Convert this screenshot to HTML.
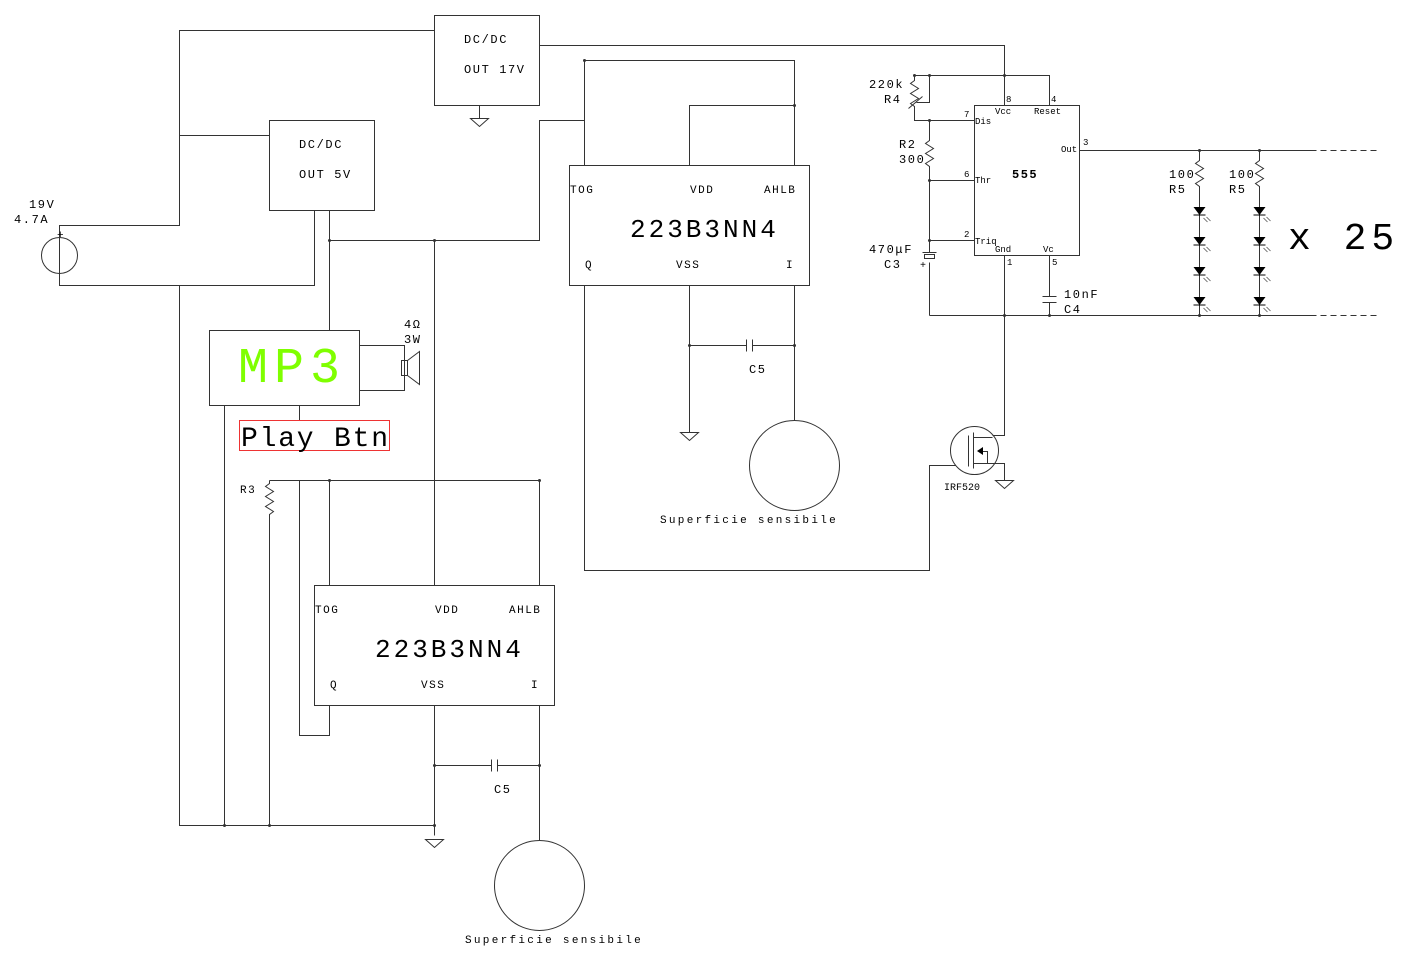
<!DOCTYPE html>
<html><head><meta charset="utf-8"><style>
html,body{margin:0;padding:0;background:#fff;}
svg{display:block;}
text{font-family:"Liberation Mono",monospace;fill:#000;}
</style></head><body>
<svg width="1410" height="961" viewBox="0 0 1410 961" xmlns="http://www.w3.org/2000/svg">
<defs>
<g id="gnd"><path d="M-9,0 H9 L0,8 Z" fill="none" stroke="#333"/></g>
<g id="led"><path d="M-6,-5 H6 L0,3 Z" fill="#000"/><path d="M-6,3 H6" stroke="#000"/><path d="M4,6 l4,4 M7,5 l4,4" stroke="#555" stroke-width="0.8"/></g>
</defs>
<g stroke="#333" stroke-width="1" fill="none" transform="translate(0.5,0.5)">
<rect x="434" y="15" width="105" height="90"/>
<rect x="269" y="120" width="105" height="90"/>
<rect x="569" y="165" width="240" height="120"/>
<rect x="314" y="585" width="240" height="120"/>
<rect x="209" y="330" width="150" height="75"/>
<rect x="974" y="105" width="105" height="150"/>
<path d="M434,30 H179 V225 H59 V285 H314 V210"/>
<circle cx="59" cy="255" r="18"/>
<path d="M179,135 H269"/>
<path d="M179,285 V825 H434"/>
<path d="M539,45 H1004 V105"/>
<path d="M479,105 V118"/>
<path d="M329,210 V330"/>
<path d="M329,240 H539 V120 H584"/>
<path d="M434,240 V585"/>
<path d="M584,60 V165 M584,60 H794 V165 M794,105 H689 V165"/>
<path d="M689,285 V432 M689,345 H746 M752,345 H794 M794,285 V420"/>
<path d="M746,339 V351 M752,339 V351"/>
<circle cx="794" cy="465" r="45"/>
<path d="M584,285 V570 H929 V465 H955"/>
<path d="M359,345 H404 V390 H359"/>
<rect x="401" y="360" width="6" height="15"/>
<path d="M407,360 L419,351 V384 L407,375"/>
<path d="M224,405 V825 M299,405 V420"/>
<path d="M269,480 H539 M269,480 V483 l-4,3 l8,5 l-8,5 l8,5 l-8,5 l8,5 l-4,3 V825"/>
<path d="M299,480 V735 H329 V705 M329,480 V585 M539,480 V585"/>
<path d="M434,705 V835 M434,765 H491 M497,765 H539 M539,705 V840"/>
<path d="M491,759 V771 M497,759 V771"/>
<circle cx="539" cy="885" r="45"/>
<path d="M929,75 H1049 V105 M914,75 H929"/>
<path d="M914,75 V80 l-4,3 l8,5 l-8,5 l8,5 l-8,5 l4,3 V120 H974"/>
<path d="M929,75 V102 H916 M908,108 L922,96"/>
<path d="M929,120 V140 l-4,3 l8,5 l-8,5 l8,5 l-8,5 l4,3 V180 H974"/>
<path d="M929,180 V240 H974 M929,240 V252 M929,262 V315"/>
<rect x="924" y="254" width="10" height="4"/>
<path d="M922,252 H936"/>
<path d="M929,315 H1310 M1079,150 H1310"/>
<path d="M1310,150 H1380 M1310,315 H1380" stroke-dasharray="6,4"/>
<path d="M1004,255 V435 H992"/>
<path d="M1049,255 V296 M1042,296 H1056 M1042,302 H1056 M1049,302 V315"/>
<path d="M1199,150 V160 l-4,3 l8,5 l-8,5 l8,5 l-8,5 l4,3 V300"/>
<path d="M1259,150 V160 l-4,3 l8,5 l-8,5 l8,5 l-8,5 l4,3 V300"/>
<path d="M1199,300 V315 M1259,300 V315"/>
<circle cx="974" cy="450" r="24"/>
<path d="M968,435 V466 M973,432 V468 M973,437 H992 M973,463 H987 V451 H979 M987,463 H1004 V480"/>
</g>
<path d="M977,451 l6,-4 v8 Z" fill="#000"/>
<g transform="translate(479.5,118.5)"><use href="#gnd"/></g>
<g transform="translate(689.5,432.5)"><use href="#gnd"/></g>
<g transform="translate(434.5,839.5)"><use href="#gnd"/></g>
<g transform="translate(1004.5,480.5)"><use href="#gnd"/></g>
<g transform="translate(1199.5,212)"><use href="#led"/></g>
<g transform="translate(1199.5,242)"><use href="#led"/></g>
<g transform="translate(1199.5,272)"><use href="#led"/></g>
<g transform="translate(1199.5,302)"><use href="#led"/></g>
<g transform="translate(1259.5,212)"><use href="#led"/></g>
<g transform="translate(1259.5,242)"><use href="#led"/></g>
<g transform="translate(1259.5,272)"><use href="#led"/></g>
<g transform="translate(1259.5,302)"><use href="#led"/></g>
<g fill="#333">
<circle cx="329.5" cy="240.5" r="1.5"/><circle cx="434.5" cy="240.5" r="1.5"/>
<circle cx="584.5" cy="60.5" r="1.5"/><circle cx="794.5" cy="105.5" r="1.5"/>
<circle cx="689.5" cy="345.5" r="1.5"/><circle cx="794.5" cy="345.5" r="1.5"/>
<circle cx="329.5" cy="480.5" r="1.5"/><circle cx="539.5" cy="480.5" r="1.5"/>
<circle cx="434.5" cy="765.5" r="1.5"/><circle cx="539.5" cy="765.5" r="1.5"/>
<circle cx="224.5" cy="825.5" r="1.5"/><circle cx="269.5" cy="825.5" r="1.5"/><circle cx="434.5" cy="825.5" r="1.5"/>
<circle cx="929.5" cy="75.5" r="1.5"/><circle cx="1004.5" cy="75.5" r="1.5"/><circle cx="914.5" cy="75.5" r="1.5"/>
<circle cx="929.5" cy="120.5" r="1.5"/><circle cx="929.5" cy="180.5" r="1.5"/><circle cx="929.5" cy="240.5" r="1.5"/>
<circle cx="1004.5" cy="315.5" r="1.5"/><circle cx="1049.5" cy="315.5" r="1.5"/>
<circle cx="1199.5" cy="150.5" r="1.5"/><circle cx="1259.5" cy="150.5" r="1.5"/>
<circle cx="1199.5" cy="315.5" r="1.5"/><circle cx="1259.5" cy="315.5" r="1.5"/>
</g>
<rect x="239.5" y="420.5" width="150" height="30" fill="none" stroke="#e33"/>
<g font-size="12" letter-spacing="1.6">
<text x="464" y="43">DC/DC</text><text x="464" y="73">OUT 17V</text>
<text x="299" y="148">DC/DC</text><text x="299" y="178">OUT 5V</text>
<text x="29" y="208">19V</text><text x="14" y="223">4.7A</text>
<text x="404" y="328">4Ω</text><text x="404" y="343">3W</text>
<text x="749" y="373">C5</text><text x="494" y="793">C5</text>
<text x="869" y="88">220k</text><text x="884" y="103">R4</text>
<text x="899" y="148">R2</text><text x="899" y="163">300</text>
<text x="869" y="253">470μF</text><text x="884" y="268">C3</text>
<text x="1064" y="298">10nF</text><text x="1064" y="313">C4</text>
<text x="1169" y="178">100</text><text x="1169" y="193">R5</text>
<text x="1229" y="178">100</text><text x="1229" y="193">R5</text>
</g>
<g font-size="11" letter-spacing="1.5">
<text x="570" y="193">TOG</text><text x="690" y="193">VDD</text><text x="764" y="193">AHLB</text>
<text x="585" y="268">Q</text><text x="676" y="268">VSS</text><text x="786" y="268">I</text>
<text x="315" y="613">TOG</text><text x="435" y="613">VDD</text><text x="509" y="613">AHLB</text>
<text x="330" y="688">Q</text><text x="421" y="688">VSS</text><text x="531" y="688">I</text>
<text x="240" y="493">R3</text>
</g>
<text x="57" y="238" font-size="11">+</text>
<text x="920" y="268" font-size="10">+</text>
<text x="660" y="523" font-size="11" letter-spacing="2.3">Superficie sensibile</text>
<text x="465" y="943" font-size="11" letter-spacing="2.3">Superficie sensibile</text>
<g font-size="9" font-family="Liberation Mono,monospace">
<text x="1006" y="102">8</text><text x="1051" y="102">4</text>
<text x="995" y="114">Vcc</text><text x="1034" y="114">Reset</text>
<text x="964" y="117">7</text><text x="975" y="124">Dis</text>
<text x="1083" y="145">3</text><text x="1061" y="152">Out</text>
<text x="964" y="177">6</text><text x="975" y="183">Thr</text>
<text x="964" y="237">2</text><text x="975" y="244">Triq</text>
<text x="995" y="252">Gnd</text><text x="1043" y="252">Vc</text>
<text x="1007" y="265">1</text><text x="1052" y="265">5</text>
</g>
<text x="1012" y="178" font-size="12" font-weight="bold" letter-spacing="1.5">555</text>
<text x="944" y="490" font-size="10" font-family="DejaVu Sans,sans-serif">IRF520</text>
<text x="630" y="237" font-size="26" letter-spacing="3">223B3NN4</text>
<text x="375" y="657" font-size="26" letter-spacing="3">223B3NN4</text>
<text x="238" y="382" font-size="50" letter-spacing="6" style="fill:#7fff00">MP3</text>
<text x="241" y="446" font-size="28" letter-spacing="1.8">Play Btn</text>
<text x="1288" y="249" font-size="38" letter-spacing="5">x 25</text>
</svg>
</body></html>
